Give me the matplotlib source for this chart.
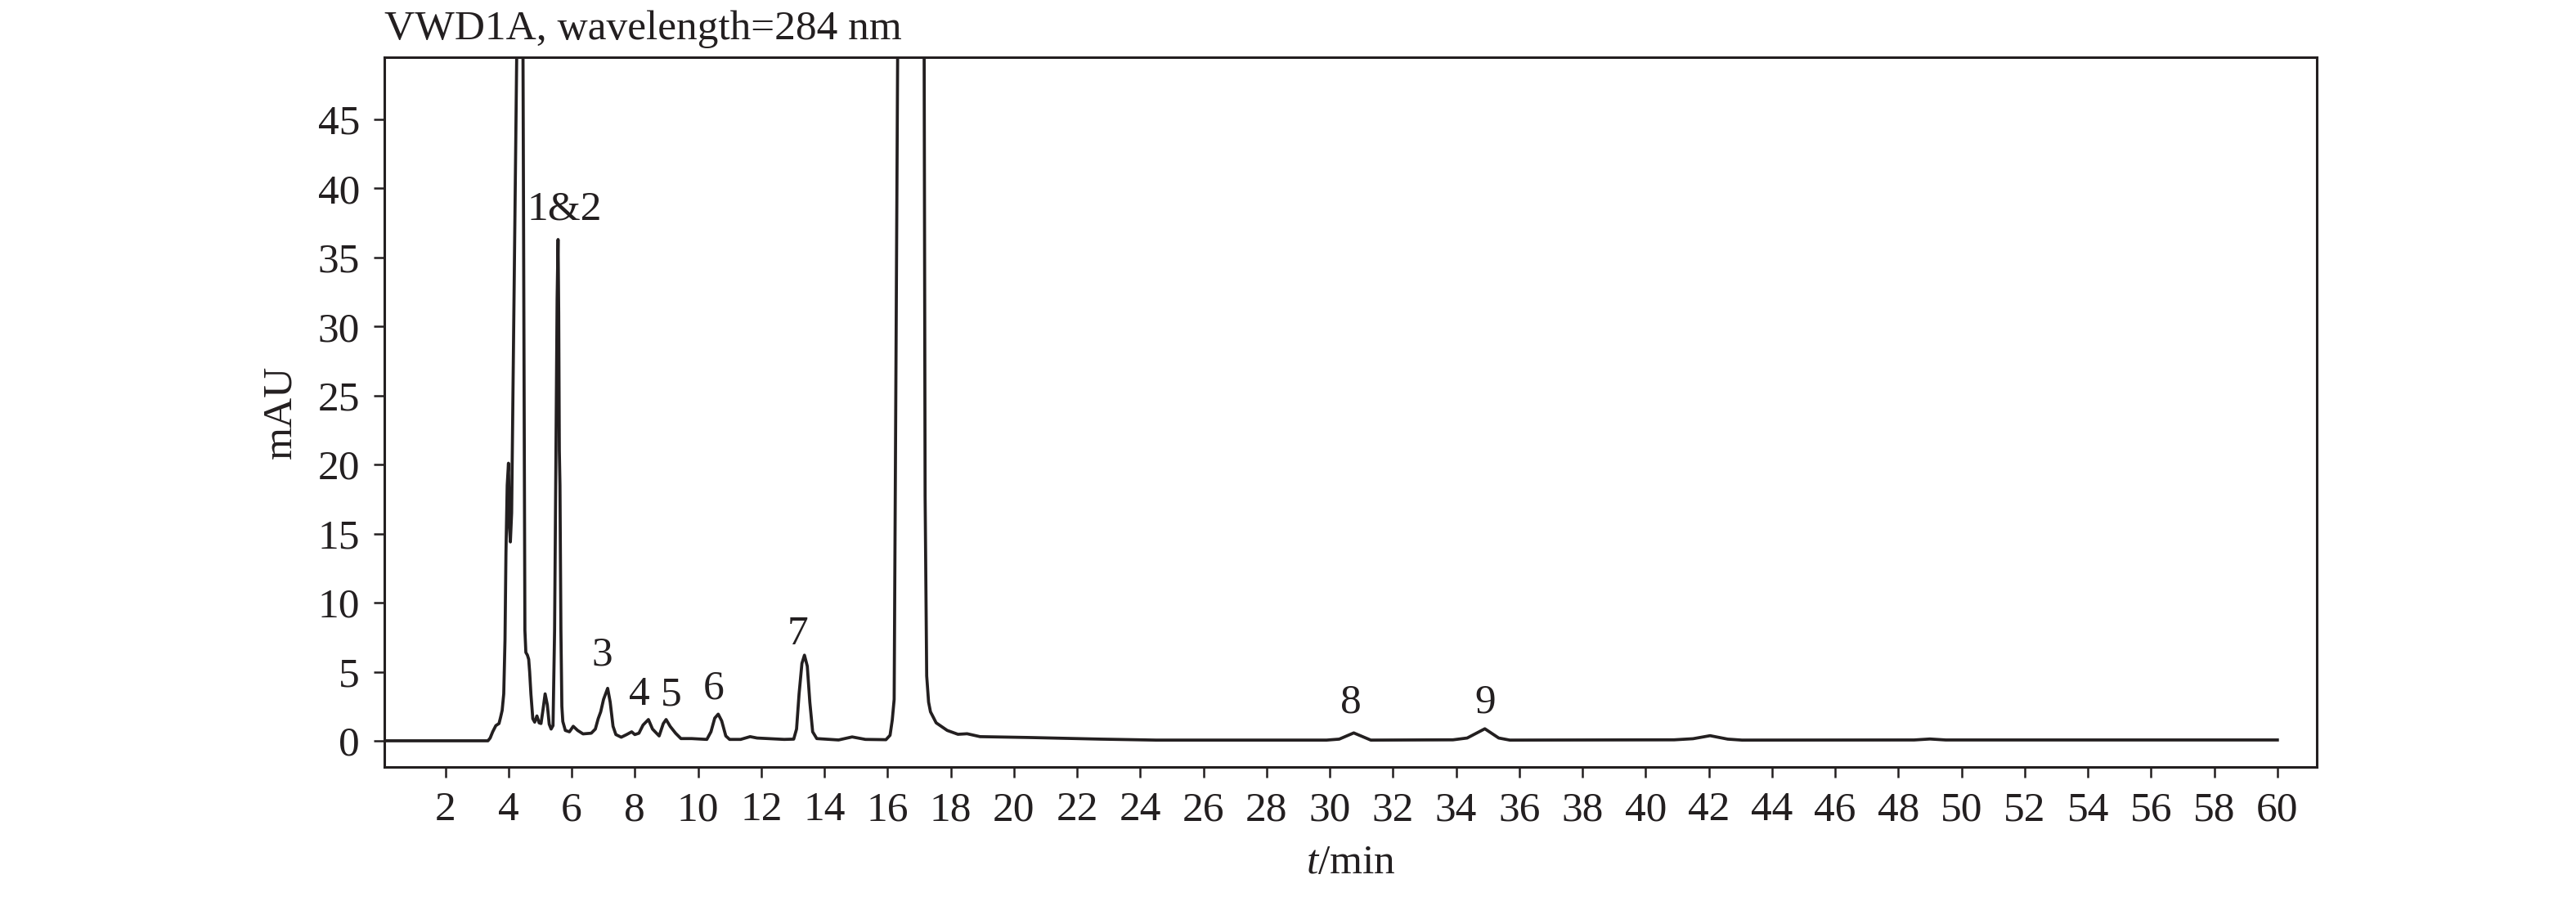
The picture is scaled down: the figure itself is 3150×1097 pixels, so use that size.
import matplotlib
matplotlib.use('Agg')
import matplotlib.pyplot as plt

# chromatogram trace (t in min, signal in mAU)
time_min = [0.1, 3.35, 3.42, 3.5, 3.6, 3.7, 3.75, 3.8, 3.85, 3.89, 3.92, 3.96, 4.0, 4.03, 4.06, 4.1,
            4.26, 4.415, 4.46, 4.52, 4.55, 4.6, 4.64, 4.67, 4.71, 4.77, 4.83, 4.9, 4.97, 5.03, 5.09,
            5.16, 5.23, 5.29, 5.35, 5.41, 5.46, 5.5, 5.54, 5.57, 5.59, 5.61, 5.63, 5.66, 5.69, 5.72,
            5.8, 5.93, 6.05, 6.19, 6.36, 6.62, 6.75, 6.84, 6.92, 7.01, 7.14, 7.22, 7.31, 7.4, 7.57,
            7.74, 7.9, 8.0, 8.13, 8.26, 8.43, 8.56, 8.77, 8.9, 8.99, 9.12, 9.29, 9.46, 9.8, 10.28,
            10.41, 10.53, 10.64, 10.75, 10.88, 11.0, 11.35, 11.65, 11.87, 12.73, 13.03, 13.12, 13.2,
            13.29, 13.37, 13.46, 13.54, 13.63, 13.76, 14.45, 14.88, 15.3, 15.95, 16.08, 16.15, 16.21,
            16.32, 16.92, 17.16, 17.19, 17.24, 17.3, 17.36, 17.54, 17.89, 18.23, 18.52, 18.93, 20.44,
            22.75, 24.5, 29.9, 30.3, 30.76, 31.3, 33.9, 34.35, 34.91, 35.35, 35.7, 40.9, 41.5, 42.04,
            42.6, 43.05, 48.5, 49.0, 49.5, 60.0]
signal_mau = [0.0, 0.0, 0.2, 0.65, 1.1, 1.25, 1.7, 2.2, 3.4, 7.3, 13.6, 18.5, 20.1, 15.5, 14.4, 16.5,
              49.5, 81.0, 49.5, 8.0, 6.4, 6.2, 5.9, 5.0, 3.4, 1.6, 1.35, 1.8, 1.3, 1.25, 2.2,
              3.4, 2.6, 1.2, 0.85, 1.1, 8.0, 20.0, 32.0, 36.3, 31.0, 21.0, 18.5, 8.0, 2.5, 1.4,
              0.75, 0.65, 1.05, 0.75, 0.5, 0.55, 0.85, 1.6, 2.1, 3.0, 3.8, 2.8, 1.05, 0.45, 0.26,
              0.45, 0.65, 0.45, 0.55, 1.14, 1.54, 0.85, 0.35, 1.24, 1.54, 1.04, 0.55, 0.16, 0.16, 0.1,
              0.65, 1.64, 1.93, 1.44, 0.35, 0.1, 0.1, 0.3, 0.2, 0.1, 0.12, 0.85, 3.4,
              5.6, 6.2, 5.4, 2.8, 0.65, 0.16, 0.06, 0.28, 0.1, 0.08, 0.4, 1.5, 3.0,
              49.5, 303.0, 49.5, 17.7, 4.7, 2.8, 2.1, 1.3, 0.75, 0.47, 0.51, 0.3, 0.24,
              0.12, 0.05, 0.05, 0.12, 0.57, 0.05, 0.07, 0.2, 0.87, 0.2, 0.05, 0.07, 0.15, 0.37,
              0.12, 0.05, 0.06, 0.13, 0.06, 0.06]

peak_labels = ['1&2', '3', '4', '5', '6', '7', '8', '9']
label_t = [5.78, 6.97, 8.14, 9.16, 10.49, 13.16, 30.67, 34.91]
label_y = [38.5, 6.2, 3.3, 3.3, 3.8, 7.7, 2.74, 2.74]

xticks = list(range(2, 61, 2))
yticks = list(range(0, 46, 5))

ink = '#231f20'
plt.rcParams['font.family'] = ['Liberation Serif', 'DejaVu Serif']
plt.rcParams['mathtext.fontset'] = 'custom'
plt.rcParams['mathtext.it'] = 'Liberation Serif:italic'
plt.rcParams['mathtext.rm'] = 'Liberation Serif'
fs = 37

fig = plt.figure(figsize=(31.5, 10.97), dpi=100)
ax = fig.add_axes([0.1492, 0.1449, 0.7502, 0.7913])

ax.plot(time_min, signal_mau, color=ink, lw=2.7, solid_joinstyle='round')

for lab, tx, ty in zip(peak_labels, label_t, label_y):
    ax.text(tx, ty, lab, ha='center', va='center', fontsize=fs, color=ink)

ax.set_xlim(0.07, 61.25)
ax.set_ylim(-1.9, 49.5)
ax.set_xticks(xticks)
ax.set_yticks(yticks)
ax.tick_params(axis='both', direction='out', length=9.5, width=1.8, colors=ink, labelsize=fs)
ax.tick_params(axis='x', pad=12)
ax.tick_params(axis='y', pad=12)
for s in ax.spines.values():
    s.set_linewidth(2.2)
    s.set_color(ink)

ax.set_ylabel('mAU', fontsize=fs, color=ink, labelpad=16)
ax.set_xlabel('$t$/min', fontsize=fs, color=ink, labelpad=13)
ax.set_title('VWD1A, wavelength=284 nm', loc='left', fontsize=fs, color=ink, pad=16)

fig.savefig('out.png', dpi=100)
